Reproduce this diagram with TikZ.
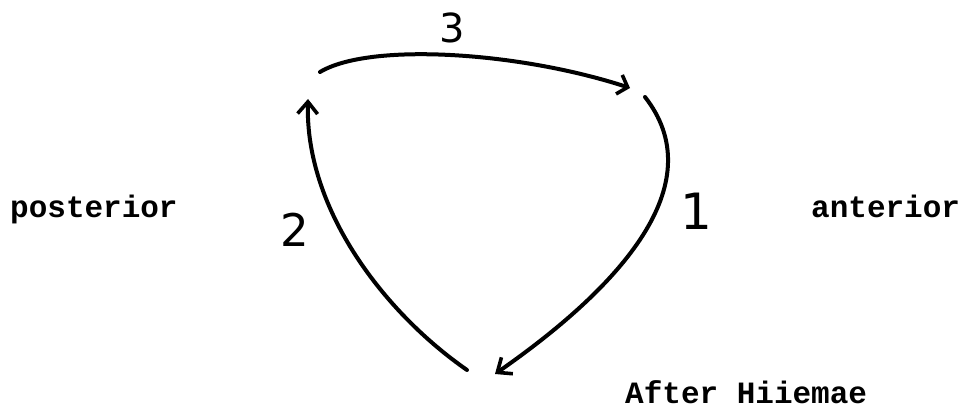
\documentclass[tikz,border=0pt]{standalone}
\usepackage{fontspec}
\setmonofont{Liberation Mono}
\newfontfamily\digitfont{DejaVu Sans}
\usetikzlibrary{arrows.meta}
\tikzset{
  word/.style={font=\ttfamily\bfseries\fontsize{31}{36}\selectfont, inner sep=0pt, anchor=base west},
  digit/.style={font=\digitfont, inner sep=0pt},
  stroke/.style={line width=4pt, line cap=round, line join=round},
  barb/.style={-{Straight Barb[length=#1, width=20pt, line width=3.6pt]}},
}
\begin{document}
\begin{tikzpicture}[x=1pt,y=-1pt]
\useasboundingbox (0,0) rectangle (964,409);
% end points of the three strokes
\coordinate (s3) at (320,72);
\coordinate (e3) at (630,88);
\coordinate (s1) at (645,97);
\coordinate (e1) at (495,374);
\coordinate (s2) at (467,370);
\coordinate (e2) at (308,99);
% strokes
\draw[stroke, barb=9pt] (s3) .. controls (370,42) and (520,52) .. (e3);
\draw[stroke, barb=12pt] (s1) .. controls (710,180) and (630,280) .. (e1);
\draw[stroke, barb=12pt] (s2) .. controls (385,313) and (305,210) .. (e2);
% numbers
\node[digit, font=\digitfont\fontsize{40}{45}\selectfont] (n3) at (452,28) {3};
\node[digit, font=\digitfont\fontsize{50}{56}\selectfont] (n1) at (696,211) {1};
\node[digit, font=\digitfont\fontsize{45}{50}\selectfont] (n2) at (295,230) {2};
% words
\node[word] (post) at (10,217) {posterior};
\node[word] (ant) at (811,217) {anterior};
\node[word] (after) at (625,403) {After Hiiemae};
\end{tikzpicture}
\end{document}
